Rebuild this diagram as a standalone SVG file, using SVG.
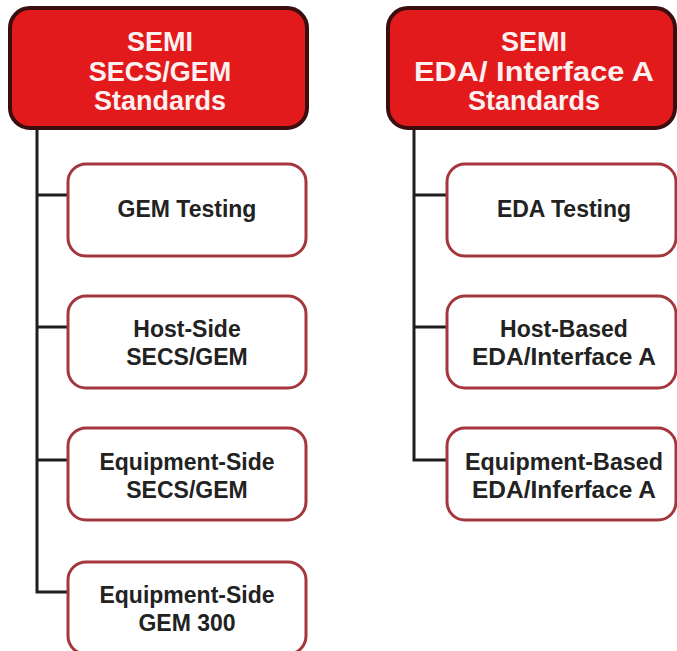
<svg xmlns="http://www.w3.org/2000/svg" width="677" height="651" viewBox="0 0 677 651">
  <style>
    .head rect { fill: #e21a1c; stroke: #3a0d0e; stroke-width: 4; }
    .head text { fill: #fdf0f0; font-family: "Liberation Sans", Arial, sans-serif; font-weight: bold; font-size: 27px; text-anchor: middle; }
    .item rect { fill: #ffffff; stroke: #a3373d; stroke-width: 3; }
    .item text { fill: #222222; font-family: "Liberation Sans", Arial, sans-serif; font-weight: bold; font-size: 23px; text-anchor: middle; }
    .wire { fill: none; stroke: #1e1e1e; stroke-width: 3; }
  </style>
  <rect width="677" height="651" fill="#ffffff"/>

  <g id="connectors">
    <path class="wire" d="M37 128 V592 H68 M37 195 H68 M37 327 H68 M37 460 H68"/>
    <path class="wire" d="M414 128 V460 H447 M414 195 H447 M414 327 H447"/>
  </g>

  <g id="secs-gem-standards" class="head">
    <rect x="10" y="8" width="297" height="120" rx="20"/>
    <text x="160" y="51">SEMI</text>
    <text x="160" y="81">SECS/GEM</text>
    <text x="160" y="110">Standards</text>
  </g>

  <g id="eda-standards" class="head">
    <rect x="388" y="8" width="287" height="120" rx="20"/>
    <text x="534" y="51">SEMI</text>
    <text x="534" y="81" textLength="240" lengthAdjust="spacingAndGlyphs">EDA/ Interface A</text>
    <text x="534" y="110">Standards</text>
  </g>

  <g id="gem-testing" class="item">
    <rect x="68" y="164" width="238" height="92" rx="18"/>
    <text x="187" y="217">GEM Testing</text>
  </g>

  <g id="host-side-secs-gem" class="item">
    <rect x="68" y="296" width="238" height="92" rx="18"/>
    <text x="187" y="337">Host-Side</text>
    <text x="187" y="365">SECS/GEM</text>
  </g>

  <g id="equipment-side-secs-gem" class="item">
    <rect x="68" y="428" width="238" height="92" rx="18"/>
    <text x="187" y="470">Equipment-Side</text>
    <text x="187" y="498">SECS/GEM</text>
  </g>

  <g id="equipment-side-gem300" class="item">
    <rect x="68" y="562" width="238" height="92" rx="18"/>
    <text x="187" y="603">Equipment-Side</text>
    <text x="187" y="631">GEM 300</text>
  </g>

  <g id="eda-testing" class="item">
    <rect x="447" y="164" width="229" height="92" rx="18"/>
    <text x="564" y="217">EDA Testing</text>
  </g>

  <g id="host-based-eda" class="item">
    <rect x="447" y="296" width="229" height="92" rx="18"/>
    <text x="564" y="337">Host-Based</text>
    <text x="564" y="365" textLength="184" lengthAdjust="spacingAndGlyphs">EDA/Interface A</text>
  </g>

  <g id="equipment-based-eda" class="item">
    <rect x="447" y="428" width="229" height="92" rx="18"/>
    <text x="564" y="470" textLength="198" lengthAdjust="spacingAndGlyphs">Equipment-Based</text>
    <text x="564" y="498" textLength="184" lengthAdjust="spacingAndGlyphs">EDA/Inferface A</text>
  </g>
</svg>
